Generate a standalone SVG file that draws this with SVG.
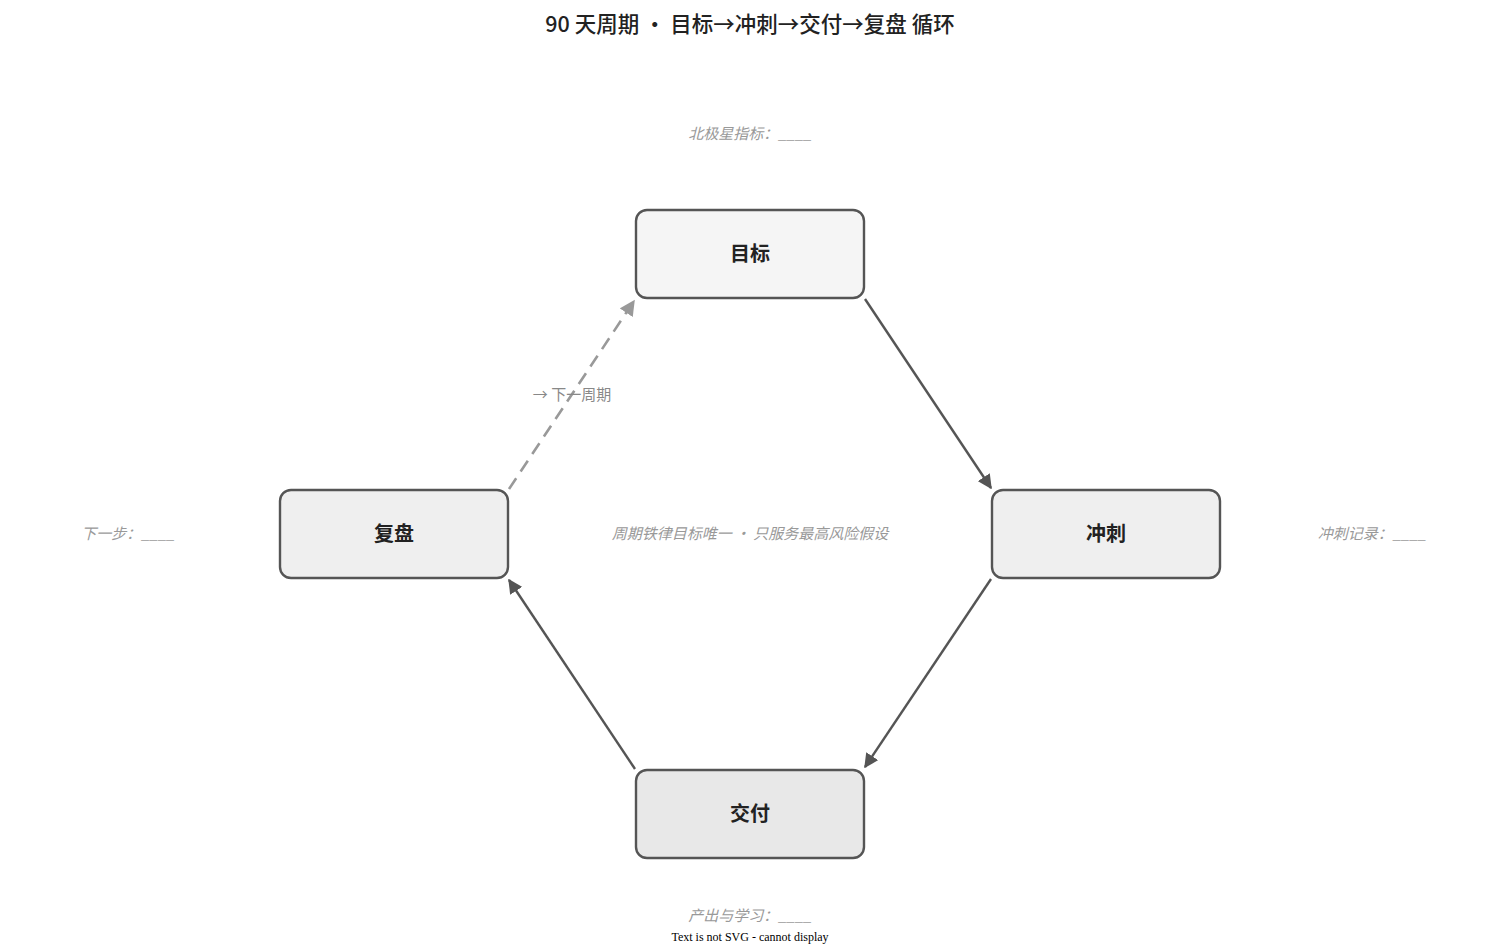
<svg xmlns="http://www.w3.org/2000/svg" width="1500" height="948" viewBox="0 0 1500 948">
<style>
.node rect{stroke:#555;stroke-width:2.4}
.nl{font-family:"Noto Sans CJK SC","Liberation Sans",sans-serif;font-size:20px;font-weight:bold;fill:#222;text-anchor:middle;dominant-baseline:central}
.note{font-family:"Noto Sans CJK SC","Liberation Sans",sans-serif;font-size:15px;font-style:italic;fill:#999;text-anchor:middle;dominant-baseline:central}
.edge{stroke:#555;stroke-width:2.4;fill:none}
</style>
<defs>
<marker id="ah" viewBox="0 0 10 10" refX="9" refY="5" markerWidth="6" markerHeight="6" orient="auto" markerUnits="strokeWidth"><path d="M0,0L10,5L0,10z" fill="#555"/></marker>
<marker id="ahg" viewBox="0 0 10 10" refX="9" refY="5" markerWidth="6" markerHeight="6" orient="auto" markerUnits="strokeWidth"><path d="M0,0L10,5L0,10z" fill="#999"/></marker>
</defs>
<rect width="1500" height="948" fill="#fff"/>
<text x="750" y="22.5" font-family="'Noto Sans CJK SC','Liberation Sans',sans-serif" font-size="21.5" font-weight="500" fill="#222" text-anchor="middle" dominant-baseline="central">90 天周期 · 目标→冲刺→交付→复盘 循环</text>
<g id="connectors">
<path class="edge" d="M865,299L991,488" marker-end="url(#ah)"/>
<path class="edge" d="M991,579L865,767" marker-end="url(#ah)"/>
<path class="edge" d="M635,769L509,580" marker-end="url(#ah)"/>
<path class="edge" d="M509,489L634,301" style="stroke:#999;stroke-width:2.6" stroke-dasharray="13,8" marker-end="url(#ahg)"/>
<text x="572" y="393" font-family="'Noto Sans CJK SC','Liberation Sans',sans-serif" font-size="15" fill="#888" text-anchor="middle" dominant-baseline="central">→ 下一周期</text>
</g>
<g id="node-goal" class="node"><rect x="636" y="210" width="228" height="88" rx="11" fill="#f5f5f5"/><text class="nl" x="750" y="252.5">目标</text></g>
<g id="node-sprint" class="node"><rect x="992" y="490" width="228" height="88" rx="11" fill="#efefef"/><text class="nl" x="1106" y="532.5">冲刺</text></g>
<g id="node-review" class="node"><rect x="280" y="490" width="228" height="88" rx="11" fill="#efefef"/><text class="nl" x="394" y="532.5">复盘</text></g>
<g id="node-deliver" class="node"><rect x="636" y="770" width="228" height="88" rx="11" fill="#e8e8e8"/><text class="nl" x="750" y="812.5">交付</text></g>
<g id="notes">
<text class="note" x="750" y="132">北极星指标：____</text>
<text class="note" x="128" y="532">下一步：____</text>
<text class="note" x="1372" y="532">冲刺记录：____</text>
<text class="note" x="750" y="914">产出与学习：____</text>
<text class="note" x="750" y="532">周期铁律目标唯一 · 只服务最高风险假设</text>
</g>
<text x="750" y="937" font-family="'Liberation Serif',serif" font-size="12" fill="#000" text-anchor="middle" dominant-baseline="central">Text is not SVG - cannot display</text>
</svg>
